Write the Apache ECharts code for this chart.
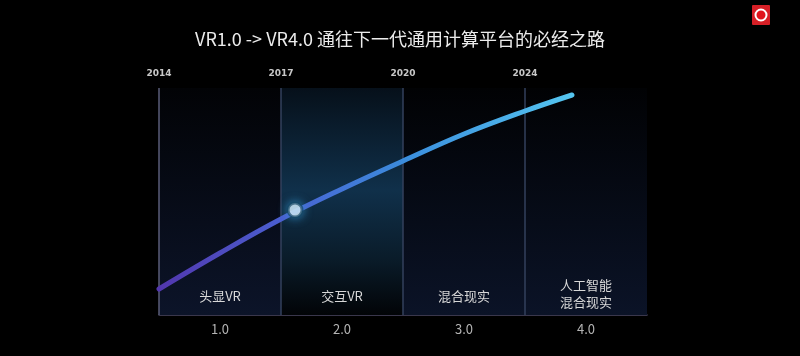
<!DOCTYPE html>
<html><head><meta charset="utf-8">
<script src="https://cdn.jsdelivr.net/npm/echarts@6/dist/echarts.min.js"></script>
<style>html,body{margin:0;padding:0;background:#000;}#c{width:800px;height:356px;}</style>
</head><body><div id="c"></div>
<script>
var title = 'VR1.0 -> VR4.0 通往下一代通用计算平台的必经之路';
var versions = ['1.0', '2.0', '3.0', '4.0'];
var stages = ['头显VR', '交互VR', '混合现实', '人工智能\n混合现实'];
var years = ['2014', '2017', '2020', '2024'];
var yearPos = [0, 1, 2, 3];
// curve: x in stage units (0..4), y = level
var curveX = [0, 0.5, 1, 1.5, 2, 2.5, 3, 3.385];
var curveY = [26, 62, 96, 126, 154, 181, 204, 220];
var marker = [1.115, 105];

var G = echarts.graphic.LinearGradient;
var panelColors = [
  new G(0,0,0,1,[{offset:0,color:'#020306'},{offset:1,color:'#0c1429'}]),
  new G(0,0,0,1,[{offset:0,color:'#06101a'},{offset:0.45,color:'#10304a'},{offset:0.75,color:'#0a1c2a'},{offset:1,color:'#020407'}]),
  new G(0,0,0,1,[{offset:0,color:'#010204'},{offset:1,color:'#0b1327'}]),
  new G(0,0,0,1,[{offset:0,color:'#010204'},{offset:1,color:'#0b1327'}])
];
var areas = stages.map(function(s, i){
  return [{xAxis: i, yAxis: 0, name: s, itemStyle:{color: panelColors[i]},
           label:{distance: i === 3 ? 4 : 10}},
          {xAxis: i + 1, yAxis: 227}];
});
var lines = years.map(function(y, i){
  return [{coord:[yearPos[i], 0], lineStyle:{color: i === 0 ? '#5a5d78' : '#33405c'}},
          {coord:[yearPos[i], 227], label:{formatter: y}}];
});

var chart = echarts.init(document.getElementById('c'), null, {renderer:'canvas'});
chart.setOption({
  backgroundColor: '#000',
  animation: false,
  title: {text: title, left: 'center', top: 25,
    textStyle:{color:'#ececec', fontSize:18, fontWeight:'normal', fontFamily:'Noto Sans CJK SC'}},
  grid: {left:159, right:153, top:88, bottom:41},
  xAxis: [
    {type:'value', min:0, max:4, show:false},
    {type:'category', data: versions, position:'bottom', boundaryGap:true,
      axisLine:{lineStyle:{color:'#4d4a66', width:1.5}}, axisTick:{show:false},
      axisLabel:{color:'#b4b4b4', fontSize:13, margin:8, fontFamily:'Noto Sans CJK SC'},
      splitLine:{show:false}}
  ],
  yAxis: {type:'value', min:0, max:227, show:false},
  graphic: [
    {type:'rect', shape:{x:752, y:5, width:18, height:20, r:1}, style:{fill:'#d61f26'}},
    {type:'circle', shape:{cx:761, cy:15, r:5.5}, style:{fill:'#e0141c', stroke:'#ffffff', lineWidth:2}}
  ],
  series: [
    {type:'line', xAxisIndex:0, smooth:0.4, symbol:'none',
      data: curveX.map(function(x, i){ return [x, curveY[i]]; }),
      lineStyle:{width:5, cap:'round',
        color: new G(0,0,1,0,[{offset:0,color:'#5236ad'},{offset:0.3,color:'#4a5fd0'},{offset:0.6,color:'#3b8edd'},{offset:1,color:'#55c6f0'}])},
      z: 5,
      markArea:{silent:true, data: areas,
        label:{show:true, position:'insideBottom', color:'#d8d8d8', fontSize:13, lineHeight:17, fontFamily:'Noto Sans CJK SC'}},
      markLine:{silent:true, symbol:['none','none'], animation:false,
        lineStyle:{type:'solid', width:1.5},
        label:{show:true, position:'end', distance:10, color:'#c8c8c8', fontSize:9, fontWeight:'bold', fontFamily:'DejaVu Sans'},
        data: lines}
    },
    {type:'scatter', xAxisIndex:0, data:[marker], symbolSize:14, z:10,
      itemStyle:{color:'#ffffff', borderColor:'rgba(20,70,100,0.85)', borderWidth:3,
        shadowBlur:10, shadowColor:'rgba(50,150,210,0.9)'}}
  ]
});
</script></body></html>
